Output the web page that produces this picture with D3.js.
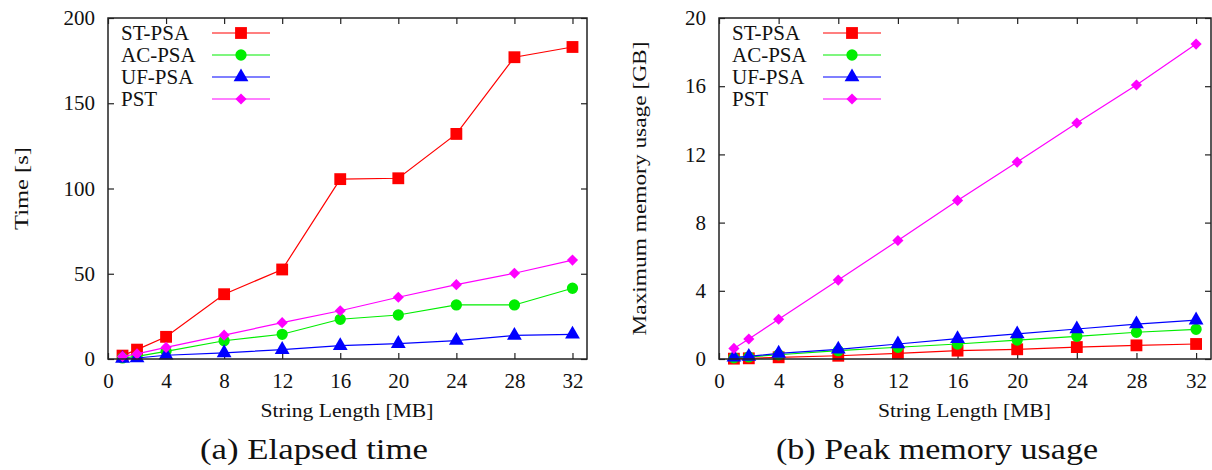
<!DOCTYPE html>
<html>
<head>
<meta charset="utf-8">
<script src="https://cdn.jsdelivr.net/npm/d3@7"></script>
<style>
  body { margin: 0; background: #fff; }
</style>
</head>
<body>
<svg id="chart" width="1212" height="470"></svg>
<script>
// string length in MB
const sizes = [1, 2, 4, 8, 12, 16, 20, 24, 28, 32];
const seriesNames = ["ST-PSA", "AC-PSA", "UF-PSA", "PST"];

// elapsed time [s]
const timeST  = [2, 5.5, 13, 38, 52.5, 105.5, 106, 132, 177, 183];
const timeAC  = [0.6, 1.5, 4.5, 10.7, 14.5, 23.3, 25.8, 31.7, 31.7, 41.5];
const timeUF  = [0.3, 0.6, 2.2, 3.6, 5.5, 7.8, 9, 10.8, 13.8, 14.5];
const timePST = [1.5, 3, 6.8, 14, 21.3, 28.3, 36.2, 43.6, 50.3, 58];

// peak memory [GB]
const memST  = [0.02, 0.04, 0.1, 0.19, 0.33, 0.49, 0.57, 0.7, 0.8, 0.88];
const memAC  = [0.07, 0.12, 0.25, 0.49, 0.69, 0.88, 1.11, 1.33, 1.57, 1.74];
const memUF  = [0.1, 0.15, 0.33, 0.57, 0.88, 1.19, 1.47, 1.76, 2.05, 2.28];
const memPST = [0.62, 1.17, 2.33, 4.63, 6.95, 9.3, 11.55, 13.84, 16.07, 18.47];

const xTicks = [0, 4, 8, 12, 16, 20, 24, 28, 32];
const timeTicks = [0, 50, 100, 150, 200];
const memTicks = [0, 4, 8, 12, 16, 20];

const colors = ["#ff0000", "#00ee00", "#0000ff", "#ff00ff"];
const shapes = [d3.symbolSquare, d3.symbolCircle, d3.symbolTriangle, d3.symbolSquare];
const shapeSize = [140, 100, 95, 62];
const shapeRot = [0, 0, 0, 45];

const serif = "'Liberation Serif', 'DejaVu Serif', serif";

const svg = d3.select("#chart");

function marker(sel, si) {
  sel.attr("d", d3.symbol().type(shapes[si]).size(shapeSize[si]))
    .attr("fill", colors[si]);
}

function drawPanel(opts) {
  const { left, right, top, bottom, yMax, yTicks, series, yTitle, yTitleX, yTitleLen, labelRight, caption, captionLen } = opts;

  const x = d3.scaleLinear().domain([0, 33]).range([left, right]);
  const y = d3.scaleLinear().domain([0, yMax]).range([bottom, top]);
  const g = svg.append("g");

  // ticks on all four sides, pointing inward
  const bottomAx = g.append("g")
    .attr("transform", `translate(0,${bottom})`)
    .call(d3.axisBottom(x).tickValues(xTicks).tickSize(-6).tickPadding(14));
  g.append("g").attr("transform", `translate(0,${top})`)
    .call(d3.axisTop(x).tickValues(xTicks).tickSize(-6).tickFormat(""));
  const leftAx = g.append("g")
    .attr("transform", `translate(${left},0)`)
    .call(d3.axisLeft(y).tickValues(yTicks).tickSize(-6));
  g.append("g").attr("transform", `translate(${right},0)`)
    .call(d3.axisRight(y).tickValues(yTicks).tickSize(-6).tickFormat(""));

  g.selectAll(".domain").remove();
  g.selectAll(".tick line").attr("stroke", "#222").attr("stroke-width", 1.2);
  bottomAx.selectAll("text").attr("font-size", 21);
  leftAx.selectAll("text").attr("font-size", 21).attr("x", labelRight - left);

  // series lines and markers
  series.forEach((vals, si) => {
    const pts = sizes.map((s, i) => [s, vals[i]]);
    g.append("path")
      .datum(pts)
      .attr("fill", "none")
      .attr("stroke", colors[si])
      .attr("stroke-width", 1.2)
      .attr("d", d3.line().x(d => x(d[0])).y(d => y(d[1])));
    g.selectAll(null)
      .data(pts)
      .enter()
      .append("path")
      .attr("transform", d => `translate(${x(d[0])},${y(d[1])}) rotate(${shapeRot[si]})`)
      .call(marker, si);
  });

  // legend
  seriesNames.forEach((name, si) => {
    const ly = top + 15 + si * 22;
    g.append("text")
      .attr("x", left + 13)
      .attr("y", ly)
      .attr("dy", "0.35em")
      .attr("font-size", 21)
      .text(name);
    g.append("line")
      .attr("x1", left + 104).attr("x2", left + 162)
      .attr("y1", ly).attr("y2", ly)
      .attr("stroke", colors[si]).attr("stroke-width", 1.2);
    g.append("path")
      .attr("transform", `translate(${left + 133},${ly}) rotate(${shapeRot[si]})`)
      .call(marker, si);
  });

  // frame
  g.append("rect")
    .attr("x", left).attr("y", top)
    .attr("width", right - left).attr("height", bottom - top)
    .attr("fill", "none").attr("stroke", "#222").attr("stroke-width", 1.5);

  // axis titles
  const cx = (left + right) / 2;
  g.append("text")
    .attr("x", cx - 87).attr("y", 417)
    .attr("font-size", 19)
    .attr("textLength", 173).attr("lengthAdjust", "spacingAndGlyphs")
    .text("String Length [MB]");
  const cy = (top + bottom) / 2;
  g.append("text")
    .attr("transform", `translate(${yTitleX},${cy}) rotate(-90)`)
    .attr("x", -yTitleLen / 2)
    .attr("font-size", 19)
    .attr("textLength", yTitleLen).attr("lengthAdjust", "spacingAndGlyphs")
    .text(yTitle);

  // caption
  g.append("text")
    .attr("x", opts.captionX - captionLen / 2).attr("y", 459)
    .attr("font-size", 30)
    .attr("textLength", captionLen).attr("lengthAdjust", "spacingAndGlyphs")
    .text(caption);

  g.selectAll("text").style("font-family", serif).style("fill", "#111");
}

drawPanel({
  left: 108, right: 587, top: 18, bottom: 359,
  yMax: 200, yTicks: timeTicks, labelRight: 95,
  series: [timeST, timeAC, timeUF, timePST],
  yTitle: "Time [s]", yTitleX: 28, yTitleLen: 83,
  caption: "(a) Elapsed time", captionX: 314, captionLen: 228
});

drawPanel({
  left: 719, right: 1211, top: 18, bottom: 359,
  yMax: 20, yTicks: memTicks, labelRight: 706,
  series: [memST, memAC, memUF, memPST],
  yTitle: "Maximum memory usage [GB]", yTitleX: 646, yTitleLen: 294,
  caption: "(b) Peak memory usage", captionX: 937, captionLen: 322
});
</script>
</body>
</html>
